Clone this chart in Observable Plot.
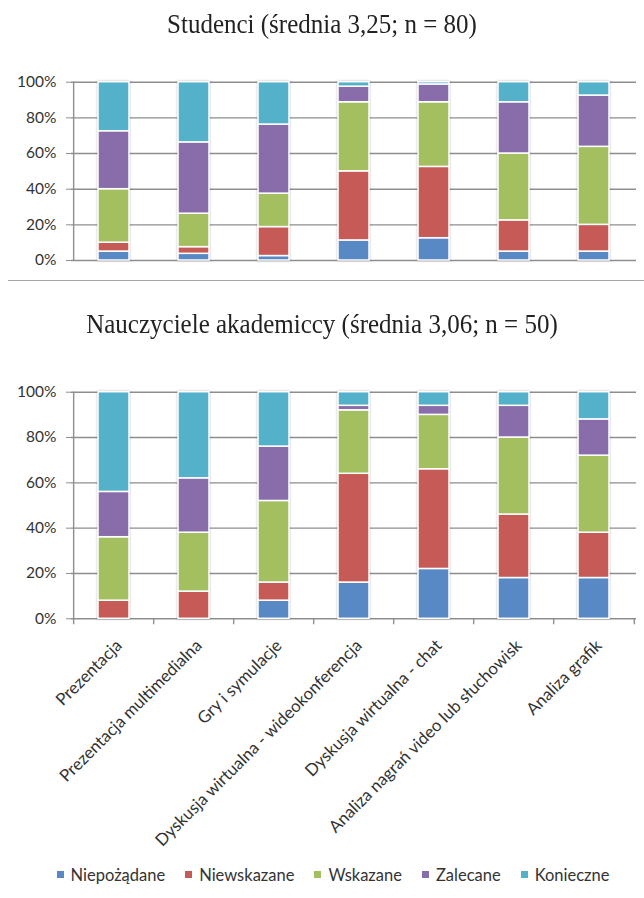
<!DOCTYPE html>
<html>
<head>
<meta charset="utf-8">
<script src="https://cdn.jsdelivr.net/npm/d3@7"></script>
<script src="https://cdn.jsdelivr.net/npm/@observablehq/plot@0.6"></script>
<style>
  html, body { margin: 0; padding: 0; background: #fff; }
  #page { position: relative; width: 644px; height: 898px; overflow: hidden; background: #fff; }
  .title { position: absolute; left: 0; width: 644px; text-align: center;
           font-family: "Liberation Serif", serif; font-size: 25px; line-height: 25px; color: #222;
           transform: scale(1, 1.1); }
  .chart { position: absolute; left: 0; }
  #sep { position: absolute; left: 8px; width: 636px; top: 280px; border-top: 1.3px solid #a6a6a6; }
  #legend { position: absolute; left: 20px; width: 646px; top: 858px; display: flex; justify-content: center; }
  .lg-swatch { margin-right: 20px !important; }
  .lg-swatch svg { margin-right: 7px !important; }
  .chart g[aria-label="bar"] { filter: drop-shadow(0 0 1px rgba(0,0,0,0.28)); }
  .chart g[aria-label="y-axis tick label"] { font-size: 15.5px; }
  .chart g[aria-label="x-axis tick label"] { font-size: 16.8px; }
</style>
</head>
<body>
<div id="page">
  <div class="title" id="t1" style="top:11px">Studenci (średnia 3,25; n = 80)</div>
  <div class="chart" id="c1" style="top:60px"></div>
  <div id="sep"></div>
  <div class="title" id="t2" style="top:311px">Nauczyciele akademiccy (średnia 3,06; n = 50)</div>
  <div class="chart" id="c2" style="top:370px"></div>
  <div id="legend"></div>
</div>
<script>
// ---- data ----
const categories = [
  "Prezentacja",
  "Prezentacja multimedialna",
  "Gry i symulacje",
  "Dyskusja wirtualna - wideokonferencja",
  "Dyskusja wirtualna - chat",
  "Analiza nagrań video lub słuchowisk",
  "Analiza grafik"
];
const levels = ["Niepożądane", "Niewskazane", "Wskazane", "Zalecane", "Konieczne"];
const colors = ["#5889c4", "#c65a56", "#a3bf60", "#896dab", "#53b1ca"];
const yTicks = [0, 20, 40, 60, 80, 100];

// Studenci (n = 80), percent per category
const studNiepozadane = [5, 3.75, 2.5, 11.25, 12.5, 5, 5];
const studNiewskazane = [5, 3.75, 16.25, 38.75, 40, 17.5, 15];
const studWskazane    = [30, 18.75, 18.75, 38.75, 36.25, 37.5, 43.75];
const studZalecane    = [32.5, 40, 38.75, 8.75, 10, 28.75, 28.75];
const studKonieczne   = [27.5, 33.75, 23.75, 2.5, 1.25, 11.25, 7.5];

// Nauczyciele akademiccy (n = 50), percent per category
const nauNiepozadane = [0, 0, 8, 16, 22, 18, 18];
const nauNiewskazane = [8, 12, 8, 48, 44, 28, 20];
const nauWskazane    = [28, 26, 36, 28, 24, 34, 34];
const nauZalecane    = [20, 24, 24, 2, 4, 14, 16];
const nauKonieczne   = [44, 38, 24, 6, 6, 6, 12];

function toRows(series) {
  return categories.flatMap((c, i) =>
    levels.map((l, j) => ({category: c, level: l, value: series[j][i]}))
  ).filter(d => d.value > 0);
}

const W = 644, ML = 71, MR = 8;
const padInner = 0.615;
const step = (W - ML - MR) / categories.length;
const gridColor = "#8e8e8e";

function makeChart({series, height, marginTop, marginBottom, showX}) {
  const rows = toRows(series);
  const marks = [
    Plot.ruleY(yTicks, {y: d => d, stroke: gridColor, strokeWidth: 1.4}),
    Plot.ruleX([categories[0]], {x: d => d, dx: -step / 2, y1: 0, y2: 100, stroke: gridColor, strokeWidth: 1.4}),
    Plot.barY(rows, {x: "category", y: "value", fill: "level", stroke: "white", strokeWidth: 1.5}),
    Plot.axisY({ticks: yTicks, tickFormat: d => d + "%", tickSize: 5, tickPadding: 10,
                stroke: gridColor, fontSize: 15.5, label: null})
  ];
  if (showX) {
    marks.push(
      Plot.ruleX(categories, {x: d => d, dx: -step / 2, y1: 0, y2: 0, insetBottom: -6, stroke: gridColor, strokeWidth: 1.4}),
      Plot.ruleX([categories[categories.length - 1]], {x: d => d, dx: step / 2, y1: 0, y2: 0, insetBottom: -6, stroke: gridColor, strokeWidth: 1.4}),
      Plot.axisX({tickSize: 0, tickRotate: -45, tickPadding: 24, fontSize: 16.8, label: null, dx: 5})
    );
  }
  return Plot.plot({
    width: W,
    height,
    marginTop,
    marginBottom,
    marginLeft: ML,
    marginRight: MR,
    style: {fontFamily: "Lato, 'Noto Sans', sans-serif", color: "#333", background: "white", overflow: "visible"},
    x: {domain: categories, paddingInner: padInner, paddingOuter: padInner / 2, axis: showX ? undefined : null},
    y: {domain: [0, 100], axis: null},
    color: {domain: levels, range: colors},
    marks
  });
}

document.getElementById("c1").appendChild(makeChart({
  series: [studNiepozadane, studNiewskazane, studWskazane, studZalecane, studKonieczne],
  height: 220, marginTop: 21.7, marginBottom: 20, showX: false
}));
document.getElementById("c2").appendChild(makeChart({
  series: [nauNiepozadane, nauNiewskazane, nauWskazane, nauZalecane, nauKonieczne],
  height: 478, marginTop: 21.7, marginBottom: 478 - 21.7 - 226.6, showX: true
}));

document.getElementById("legend").appendChild(Plot.legend({
  color: {domain: levels, range: colors},
  legend: "swatches",
  swatchSize: 7,
  className: "lg",
  style: {fontFamily: "Lato, 'Noto Sans', sans-serif", fontSize: "16.5px", color: "#333"}
}));
</script>
</body>
</html>
